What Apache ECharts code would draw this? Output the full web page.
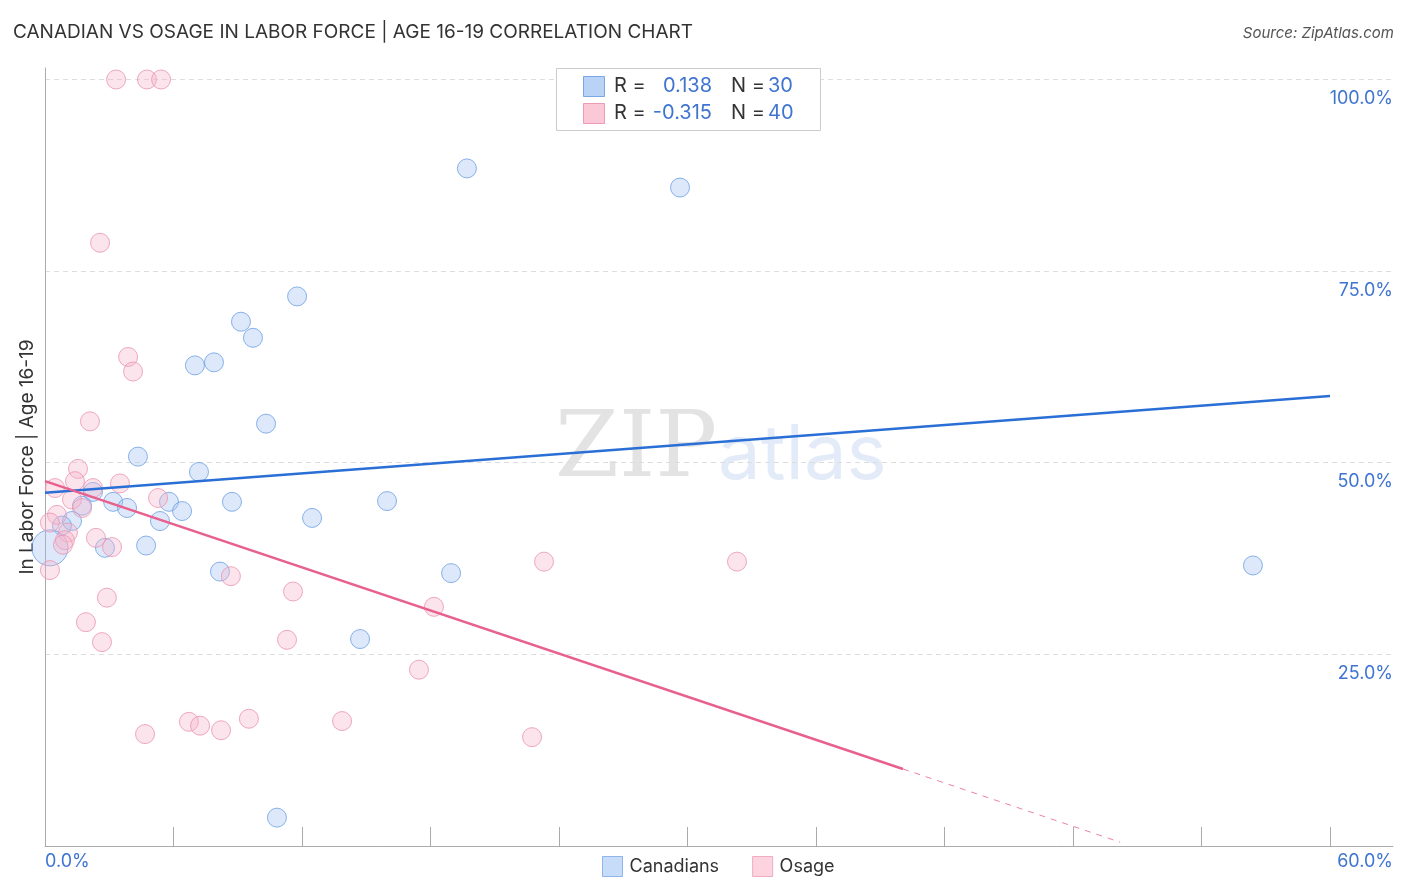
<!DOCTYPE html>
<html>
<head>
<meta charset="utf-8">
<script src="https://cdn.jsdelivr.net/npm/echarts@6/dist/echarts.min.js"></script>
<style>
html,body{margin:0;padding:0;background:#fff;}
#chart{width:1406px;height:892px;}
</style>
</head>
<body>
<div id="chart"></div>
<script>
// ---- data ----
const canadiansX = [19.70, 29.65, 11.77, 9.15, 9.71, 7.00, 7.89, 10.32, 4.34, 7.19, 2.24, 3.18, 1.73, 3.83, 5.79, 8.73, 6.40, 5.37, 12.47, 15.97, 1.26, 0.79, 4.72, 2.80, 0.23, 8.17, 18.96, 56.40, 14.71, 10.83];
const canadiansY = [88.4, 85.9, 71.7, 68.4, 66.3, 62.7, 63.1, 55.1, 50.8, 48.8, 46.2, 44.9, 44.4, 44.1, 44.9, 44.9, 43.7, 42.4, 42.8, 45.0, 42.4, 41.8, 39.2, 38.9, 38.9, 35.8, 35.6, 36.6, 27.0, 3.7];
const canadiansWeight = [1,1,1,1,1,1,1,1,1,1,1,1,1,1,1,1,1,1,1,1,1,1,1,1,2,1,1,1,1,1];

const osageX = [3.32, 4.76, 5.42, 2.57, 3.88, 4.11, 2.10, 1.54, 1.40, 0.47, 2.24, 3.50, 1.26, 1.73, 5.28, 0.56, 0.23, 1.07, 0.93, 0.84, 2.38, 3.13, 0.23, 8.68, 23.30, 32.31, 2.89, 11.58, 18.16, 1.91, 2.66, 11.30, 17.46, 4.67, 6.72, 7.24, 8.22, 9.52, 13.87, 22.74];
const osageY = [100, 100, 100, 78.7, 63.8, 61.9, 55.4, 49.2, 47.6, 46.7, 46.7, 47.3, 45.2, 44.1, 45.4, 43.2, 42.2, 40.9, 39.9, 39.3, 40.2, 39.0, 36.0, 35.2, 37.1, 37.1, 32.4, 33.2, 31.2, 29.2, 26.6, 26.9, 23.0, 14.6, 16.2, 15.7, 15.1, 16.6, 16.3, 14.2];

const canadiansTrendX = [0, 60];
const canadiansTrendY = [46.1, 58.7];
const osageTrendX = [0, 40.06];
const osageTrendY = [47.6, 10.05];
const osageTrendExtX = [40.06, 50.2];
const osageTrendExtY = [10.05, 0.5];

const xTicks = [0, 6, 12, 18, 24, 30, 36, 42, 48, 54, 60];
const yTicks = [25, 50, 75, 100];
const xTickLabels = ['0.0%', '60.0%'];
const statsR = ['0.138', '-0.315'];
const statsN = ['30', '40'];
const seriesNames = ['Canadians', 'Osage'];

// ---- styles ----
const FONT = 'Inter, "Noto Sans", sans-serif';
const blueFill = 'rgba(160,195,240,0.45)';
const blueStroke = '#6b9fe3';
const pinkFill = 'rgba(248,180,203,0.45)';
const pinkStroke = '#ea93b1';
const blueLine = '#2a6fd6';
const pinkLine = '#e8618e';

const zip = (xs, ys) => xs.map((x, i) => [x, ys[i]]);

const chart = echarts.init(document.getElementById('chart'), null, {renderer: 'canvas'});

const statFont = '20px ' + FONT;

const option = {
  backgroundColor: '#fff',
  animation: false,
  textStyle: {fontFamily: FONT},
  grid: {left: 45, right: 13, top: 68, bottom: 46, containLabel: false},
  xAxis: {
    type: 'value', min: 0, max: 62.94, interval: 6,
    axisLine: {show: true, lineStyle: {color: '#aaa', width: 1}},
    axisTick: {show: true, inside: true, length: 19, customValues: xTicks.slice(1), lineStyle: {color: '#aaa'}},
    axisLabel: {show: false},
    splitLine: {show: false}
  },
  yAxis: [{
    type: 'value', min: 0, max: 101.5, interval: 25, position: 'left',
    name: 'In Labor Force | Age 16-19', nameLocation: 'middle', nameGap: 8,
    nameTextStyle: {fontSize: 19, color: '#333', fontFamily: FONT},
    axisLine: {show: true, lineStyle: {color: '#aaa'}},
    axisTick: {show: false},
    axisLabel: {show: false},
    splitLine: {show: true, showMinLine: false, showMaxLine: false, lineStyle: {color: '#ddd', type: [5, 4], width: 1}}
  }, {
    type: 'value', min: 0, max: 101.5, interval: 25, position: 'right',
    axisLine: {show: false}, axisTick: {show: false}, splitLine: {show: false},
    axisLabel: {
      show: true, inside: true, margin: 0, customValues: yTicks,
      formatter: v => v.toFixed(1) + '%',
      color: '#3f75d1', fontSize: 18, fontFamily: FONT,
      align: 'right', verticalAlign: 'top', padding: [10, 0, 0, 0]
    }
  }],
  legend: {
    data: seriesNames.map((n, i) => ({name: n, itemStyle: {color: i === 0 ? '#b9d3f7' : '#fbc8d7', borderColor: i === 0 ? '#7aa6e6' : '#ee9bb7', borderWidth: 1}})),
    left: 597, top: 851, itemWidth: 20, itemHeight: 20, itemGap: 33,
    icon: 'rect',
    textStyle: {fontSize: 18, color: '#333', fontFamily: FONT, padding: [0, 0, 0, 2]}
  },
  graphic: [
    {type: 'text', left: 13, top: 23, style: {text: 'CANADIAN VS OSAGE IN LABOR FORCE | AGE 16-19 CORRELATION CHART', fill: '#333', font: '19px ' + FONT}},
    {type: 'text', right: 12, top: 26, style: {text: 'Source: ZipAtlas.com', fill: '#555', font: 'italic 15px ' + FONT}},
    {type: 'text', left: 45, top: 853, style: {text: xTickLabels[0], fill: '#3f75d1', font: '18px ' + FONT}},
    {type: 'text', right: 13, top: 853, style: {text: xTickLabels[1], fill: '#3f75d1', font: '18px ' + FONT}},
    // watermark
    {type: 'text', left: 555, top: 406, z: -1, style: {text: 'ZIP', fill: 'rgba(200,200,200,0.5)', font: '92px "DejaVu Serif", "Liberation Serif", serif'}},
    {type: 'text', left: 718, top: 418, z: -1, style: {text: 'atlas', fill: 'rgba(185,205,240,0.4)', font: '76px ' + FONT}},
    // stats box
    {type: 'rect', left: 556, top: 68, shape: {width: 264, height: 62}, style: {fill: '#fff', stroke: '#ccc', lineWidth: 1}, z: 10},
    {type: 'rect', left: 583, top: 76, shape: {width: 21, height: 20}, style: {fill: '#b9d3f7', stroke: '#7aa6e6', lineWidth: 1}, z: 11},
    {type: 'rect', left: 583, top: 103, shape: {width: 21, height: 20}, style: {fill: '#fbc8d7', stroke: '#ee9bb7', lineWidth: 1}, z: 11},
    {type: 'text', left: 614, top: 76, z: 11, style: {text: 'R =', fill: '#333', font: statFont}},
    {type: 'text', left: 614, top: 103, z: 11, style: {text: 'R =', fill: '#333', font: statFont}},
    {type: 'text', right: 1406 - 712, top: 76, z: 11, style: {text: statsR[0], fill: '#3f75d1', font: statFont}},
    {type: 'text', right: 1406 - 712, top: 103, z: 11, style: {text: statsR[1], fill: '#3f75d1', font: statFont}},
    {type: 'text', left: 731, top: 76, z: 11, style: {text: 'N =', fill: '#333', font: statFont}},
    {type: 'text', left: 731, top: 103, z: 11, style: {text: 'N =', fill: '#333', font: statFont}},
    {type: 'text', left: 768, top: 76, z: 11, style: {text: statsN[0], fill: '#3f75d1', font: statFont}},
    {type: 'text', left: 768, top: 103, z: 11, style: {text: statsN[1], fill: '#3f75d1', font: statFont}}
  ],
  series: [
    {
      name: seriesNames[0], type: 'scatter', yAxisIndex: 0,
      data: zip(canadiansX, canadiansY).map((d, i) => ({value: d, symbolSize: canadiansWeight[i] === 2 ? 36 : 19})),
      itemStyle: {color: blueFill, borderColor: blueStroke, borderWidth: 1},
      z: 3
    },
    {
      name: seriesNames[1], type: 'scatter', yAxisIndex: 0,
      data: zip(osageX, osageY), symbolSize: 19,
      itemStyle: {color: pinkFill, borderColor: pinkStroke, borderWidth: 1},
      z: 3
    },
    {
      type: 'line', data: zip(canadiansTrendX, canadiansTrendY), symbol: 'none',
      lineStyle: {color: blueLine, width: 2.5}, z: 5, silent: true
    },
    {
      type: 'line', data: zip(osageTrendX, osageTrendY), symbol: 'none',
      lineStyle: {color: pinkLine, width: 2.5}, z: 5, silent: true
    },
    {
      type: 'line', data: zip(osageTrendExtX, osageTrendExtY), symbol: 'none',
      lineStyle: {color: pinkLine, width: 1, type: [6, 6], opacity: 0.8}, z: 5, silent: true
    }
  ]
};
chart.setOption(option);
</script>
</body>
</html>
